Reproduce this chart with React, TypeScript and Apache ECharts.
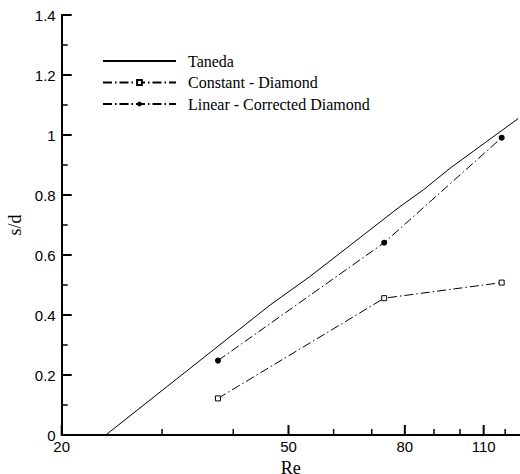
import React, { useEffect, useRef } from "react";
import * as echarts from "echarts";

const reTaneda = [23.9, 46.4, 54.5, 78.4, 86.2, 96.0, 126.5];
const sdTaneda = [0, 0.433, 0.528, 0.761, 0.817, 0.889, 1.055];
const reConstant = [37.6, 73.6, 118.3];
const sdConstant = [0.122, 0.456, 0.508];
const reLinear = [37.6, 73.6, 118.3];
const sdLinear = [0.248, 0.641, 0.991];
const xMajorTicks = [20, 50, 80, 110];
const xMinorTicks = [30, 40, 60, 70, 90, 100, 120];
const yMajorTicks = [0.2, 0.4, 0.6, 0.8, 1.0, 1.2, 1.4];
const yMinorTicks = [0.1, 0.3, 0.5, 0.7, 0.9, 1.1, 1.3];
const xMin = 20;
const xMax = 127.4;
const seriesNames = ["Taneda", "Constant - Diamond", "Linear - Corrected Diamond"];

const lg = (v: number) => Math.log10(v);
const pairs = (xs: number[], ys: number[]) => xs.map((x, i) => [lg(x), ys[i]]);

function tickSeries(data: number[][], size: number[], offset: number[]) {
  return {
    type: "scatter",
    silent: true,
    clip: false,
    z: 5,
    data,
    symbol: "rect",
    symbolSize: size,
    symbolOffset: offset,
    itemStyle: { color: "#000", opacity: 1 },
  };
}

export default function App() {
  const ref = useRef<HTMLDivElement>(null);
  useEffect(() => {
    document.body.style.margin = "0";
    const chart = echarts.init(ref.current!, null, { renderer: "svg" });
    const sans = "Liberation Sans";
    const serif = "Liberation Serif";
    const dash = [9, 3, 1.5, 3];
    chart.setOption({
      animation: false,
      backgroundColor: "#fff",
      grid: { left: 61.7, right: 0, top: 15, bottom: 39, outerBoundsMode: "none", containLabel: false },
      legend: {
        orient: "vertical",
        left: 102,
        top: 53,
        padding: 0,
        itemWidth: 73,
        itemHeight: 6,
        itemGap: 5.5,
        data: [
          { name: seriesNames[0], itemStyle: { color: "rgba(0,0,0,0)", borderColor: "rgba(0,0,0,0)" } },
          { name: seriesNames[1] },
          { name: seriesNames[2] },
        ],
        textStyle: { fontFamily: serif, fontSize: 16, color: "#000", lineHeight: 14, padding: [0, 0, 0, 7] },
      },
      xAxis: {
        type: "value",
        min: lg(xMin),
        max: lg(xMax),
        position: "bottom",
        name: "Re",
        nameLocation: "middle",
        nameGap: 17,
        nameTextStyle: { fontFamily: serif, fontSize: 18, color: "#000" },
        axisLine: { onZero: false, lineStyle: { color: "#000", width: 2 } },
        axisTick: { show: false },
        axisLabel: {
          margin: 4,
          fontFamily: sans,
          fontSize: 15,
          color: "#000",
          customValues: xMajorTicks.map(lg),
          formatter: (v: number) => String(Math.round(Math.pow(10, v))),
        },
        splitLine: { show: false },
      },
      yAxis: {
        type: "value",
        min: 0,
        max: 1.4,
        interval: 0.2,
        name: "s/d",
        nameLocation: "middle",
        nameGap: 31,
        nameTextStyle: { fontFamily: serif, fontSize: 18, color: "#000" },
        axisLine: { show: true, onZero: false, lineStyle: { color: "#000", width: 2 } },
        axisTick: { show: false },
        axisLabel: { margin: 6, fontFamily: sans, fontSize: 15, color: "#000" },
        splitLine: { show: false },
      },
      series: [
        { name: seriesNames[0], type: "line", data: pairs(reTaneda, sdTaneda), symbol: "none", lineStyle: { color: "#000", width: 1 }, itemStyle: { color: "#000" } },
        { name: seriesNames[1], type: "line", data: pairs(reConstant, sdConstant), symbol: "rect", symbolSize: 5, lineStyle: { color: "#000", width: 1, type: dash }, itemStyle: { color: "#fff", borderColor: "#000", borderWidth: 1 } },
        { name: seriesNames[2], type: "line", data: pairs(reLinear, sdLinear), symbol: "circle", symbolSize: 6, lineStyle: { color: "#000", width: 1, type: dash }, itemStyle: { color: "#000" } },
        tickSeries(xMajorTicks.map((t) => [lg(t), 0]), [2, 10], [0, -5]),
        tickSeries(xMinorTicks.map((t) => [lg(t), 0]), [1.5, 6], [0, -3]),
        tickSeries(yMajorTicks.map((t) => [lg(xMin), t]), [10, 2], [5, 0]),
        tickSeries(yMinorTicks.map((t) => [lg(xMin), t]), [6, 1.5], [3, 0]),
      ],
    });
    return () => chart.dispose();
  }, []);
  return <div ref={ref} style={{ width: 520, height: 474 }} />;
}
